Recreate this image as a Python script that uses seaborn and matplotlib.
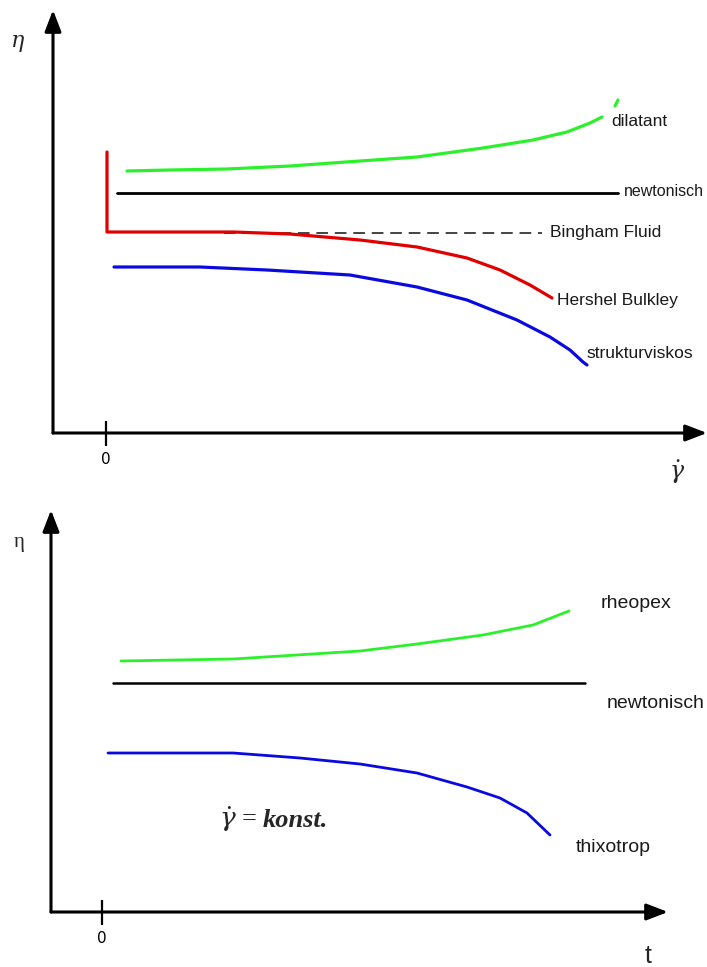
import matplotlib
matplotlib.use("Agg")
import matplotlib.pyplot as plt
import seaborn as sns

# --- top panel: viscosity vs shear rate ---
dil_x = [0.42, 1.28, 2.42, 3.68, 5.08, 6.22, 7.54, 8.54, 9.22, 9.68, 9.92]
dil_y = [5.24, 5.26, 5.28, 5.34, 5.44, 5.52, 5.70, 5.86, 6.02, 6.20, 6.32]
dil_tail_x = [10.18, 10.24]
dil_tail_y = [6.54, 6.66]

newt_x = [0.22, 10.24]
newt_y = [4.8, 4.8]

hb_x = [0.02, 0.02, 2.54, 3.68, 5.08, 6.22, 7.22, 7.88, 8.48, 8.92]
hb_y = [5.62, 4.02, 4.02, 3.98, 3.86, 3.72, 3.50, 3.26, 2.96, 2.70]

bing_x = [2.36, 8.72]
bing_y = [4.01, 4.01]

sv_x = [0.16, 1.88, 3.22, 4.88, 6.22, 7.22, 8.22, 8.88, 9.28, 9.54, 9.62]
sv_y = [3.32, 3.32, 3.26, 3.16, 2.92, 2.66, 2.26, 1.92, 1.66, 1.42, 1.36]

top_labels = ["dilatant", "newtonisch", "Bingham Fluid", "Hershel Bulkley", "strukturviskos"]
top_label_x = [10.1, 10.36, 8.88, 9.02, 9.6]
top_label_y = [6.13, 4.73, 3.93, 2.57, 1.49]
top_label_size = [12.5, 11.5, 12.5, 12.5, 12.5]

# --- bottom panel: viscosity vs time ---
rh_x = [0.38, 2.62, 5.16, 6.30, 7.62, 8.62, 9.34]
rh_y = [5.02, 5.06, 5.22, 5.36, 5.54, 5.74, 6.02]

newt2_x = [0.22, 9.66]
newt2_y = [4.58, 4.58]

th_x = [0.12, 2.62, 3.96, 5.16, 6.30, 7.30, 7.96, 8.50, 8.96]
th_y = [3.18, 3.18, 3.08, 2.96, 2.78, 2.50, 2.28, 1.98, 1.54]

bot_labels = ["rheopex", "newtonisch", "thixotrop"]
bot_label_x = [9.98, 10.1, 9.48]
bot_label_y = [6.07, 4.07, 1.21]

sns.set_style("white")
plt.rcParams["mathtext.fontset"] = "dejavuserif"

GREEN = "#2cf02c"
RED = "#e00000"
BLUE = "#0a0ae0"
TXT = "#1a1a1a"

fig = plt.figure(figsize=(7.07, 9.67), dpi=100)
ax1 = fig.add_axes([53 / 707, (967 - 433) / 967, 654 / 707, 423 / 967])
ax2 = fig.add_axes([51 / 707, (967 - 912) / 967, 617 / 707, 402 / 967])

for ax in (ax1, ax2):
    for s in ax.spines.values():
        s.set_visible(False)
    ax.set_yticks([])
    ax.set_xticks([0])
    ax.set_xticklabels(["0"])
    ax.tick_params(axis="x", bottom=True, direction="inout", length=18, width=1.6,
                   labelsize=11, pad=5, colors="black")
    ax.set_facecolor("none")
    # axis arrows
    ax.annotate("", xy=(1, 0), xytext=(0, 0), xycoords="axes fraction",
                arrowprops=dict(arrowstyle="-|>,head_length=1.3,head_width=0.5",
                                lw=2.2, color="black", shrinkA=0, shrinkB=0))
    ax.annotate("", xy=(0, 1), xytext=(0, 0), xycoords="axes fraction",
                arrowprops=dict(arrowstyle="-|>,head_length=1.3,head_width=0.5",
                                lw=2.2, color="black", shrinkA=0, shrinkB=0))

ax1.set_xlim(-1.06, 12.02)
ax1.set_ylim(0, 8.46)
ax2.set_xlim(-1.02, 11.32)
ax2.set_ylim(0, 8.04)

# top curves
sns.lineplot(x=dil_x, y=dil_y, color=GREEN, lw=2.3, sort=False, estimator=None, ax=ax1)
sns.lineplot(x=dil_tail_x, y=dil_tail_y, color=GREEN, lw=2.3, sort=False, estimator=None, ax=ax1)
sns.lineplot(x=newt_x, y=newt_y, color="black", lw=2.0, sort=False, estimator=None, ax=ax1)
ax1.plot(bing_x, bing_y, color="#444444", lw=1.4, linestyle=(0, (6, 3.5)))
sns.lineplot(x=hb_x, y=hb_y, color=RED, lw=2.3, sort=False, estimator=None, ax=ax1)
sns.lineplot(x=sv_x, y=sv_y, color=BLUE, lw=2.3, sort=False, estimator=None, ax=ax1)

for lab, lx, ly, fs in zip(top_labels, top_label_x, top_label_y, top_label_size):
    ax1.text(lx, ly, lab, fontsize=fs, family="Liberation Sans", color=TXT,
             ha="left", va="baseline", clip_on=False)

# bottom curves
sns.lineplot(x=rh_x, y=rh_y, color=GREEN, lw=2.0, sort=False, estimator=None, ax=ax2)
sns.lineplot(x=newt2_x, y=newt2_y, color="black", lw=1.8, sort=False, estimator=None, ax=ax2)
sns.lineplot(x=th_x, y=th_y, color=BLUE, lw=2.0, sort=False, estimator=None, ax=ax2)

for lab, lx, ly in zip(bot_labels, bot_label_x, bot_label_y):
    ax2.text(lx, ly, lab, fontsize=14, family="Liberation Sans", color=TXT,
             ha="left", va="baseline", clip_on=False)

ax2.text(3.1, 1.70, r"$\dot{\gamma}$ =", fontsize=19, family="Liberation Serif",
         ha="right", va="baseline")
ax2.text(3.22, 1.70, "konst.", fontsize=19, family="Liberation Serif",
         style="italic", weight="bold", ha="left", va="baseline")

# axis symbols
fig.text(18 / 707, 1 - 43 / 967, r"$\eta$", fontsize=16, ha="center", va="center")
fig.text(677 / 707, 1 - 472 / 967, r"$\dot{\gamma}$", fontsize=17, ha="center", va="center")
fig.text(19 / 707, 1 - 542 / 967, "η", fontsize=15, family="Liberation Serif",
         ha="center", va="center")
fig.text(648 / 707, 1 - 956 / 967, "t", fontsize=18, family="Liberation Sans",
         ha="center", va="center")

for ax in (ax1, ax2):
    leg = ax.get_legend()
    if leg:
        leg.remove()

fig.savefig("out.png", dpi=100)
